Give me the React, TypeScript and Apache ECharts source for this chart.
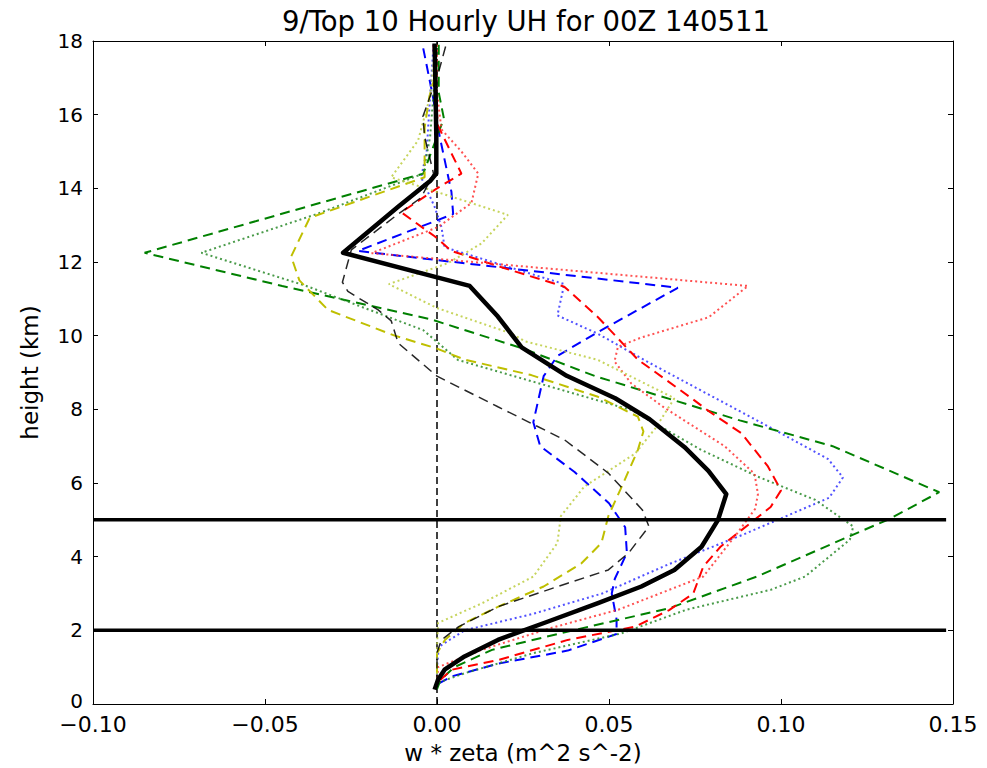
import React, { useEffect, useRef } from "react";
import * as echarts from "echarts";

// Each profile: [w*zeta (m^2 s^-2), height (km)]
const meanProfile: number[][] = [
  [-0.0007, 17.93], [-0.0004, 16.5], [-0.0002, 15.4], [-0.0002, 14.4], [-0.002, 14.2],
  [-0.0113, 13.5], [-0.0273, 12.25], [0.0095, 11.35], [0.0177, 10.52], [0.0246, 9.68],
  [0.0377, 8.91], [0.0518, 8.3], [0.0618, 7.73], [0.0719, 6.98], [0.0789, 6.33],
  [0.0841, 5.7], [0.0817, 5.0], [0.0769, 4.27], [0.069, 3.64], [0.0594, 3.19],
  [0.0468, 2.74], [0.0323, 2.24], [0.0177, 1.74], [0.008, 1.29], [0.0022, 0.93],
  [0.0003, 0.66], [-0.0007, 0.39],
];

const blueDashed: number[][] = [
  [-0.004, 17.8], [-0.0012, 16.5], [0.0008, 15.4], [0.0042, 13.9], [0.0047, 13.3],
  [-0.023, 12.3], [0.07, 11.3], [0.0468, 10.1], [0.035, 9.45], [0.031, 8.9],
  [0.028, 7.65], [0.03, 7.0], [0.04, 6.3], [0.05, 5.45], [0.0547, 4.8], [0.0552, 4.1],
  [0.0517, 3.4], [0.0508, 3.0], [0.0522, 2.3], [0.0522, 1.9], [0.038, 1.45],
  [0.018, 1.1], [0.0043, 0.75], [0.0003, 0.55],
];

const blueDotted: number[][] = [
  [-0.001, 17.9], [-0.002, 16.5], [-0.003, 15.0], [-0.0046, 14.3], [-0.0007, 13.5],
  [0.0013, 12.95], [0.0022, 12.4], [0.037, 11.4], [0.035, 10.55], [0.0468, 10.05],
  [0.061, 9.3], [0.079, 8.4], [0.098, 7.45], [0.1137, 6.65], [0.118, 6.15],
  [0.114, 5.6], [0.099, 5.0], [0.089, 4.6], [0.0675, 3.8], [0.048, 3.0],
  [0.028, 2.45], [0.008, 2.0], [0.0005, 1.55], [0.0, 1.0], [0.0, 0.5],
];

const greenDashed: number[][] = [
  [0.0005, 17.9], [0.0005, 16.6], [0.002, 15.9], [-0.004, 14.4], [-0.085, 12.25],
  [-0.045, 11.35], [-0.002, 10.45], [0.025, 9.65], [0.046, 8.9], [0.088, 7.7],
  [0.115, 7.0], [0.146, 5.75], [0.131, 5.0], [0.121, 4.6], [0.093, 3.46],
  [0.0675, 2.6], [0.04, 2.01], [0.016, 1.47], [0.005, 1.0], [0.001, 0.65], [0.0, 0.4],
];

const greenDotted: number[][] = [
  [0.0, 17.9], [-0.001, 16.6], [-0.002, 15.4], [-0.004, 14.4], [-0.035, 13.3],
  [-0.0685, 12.25], [-0.038, 11.35], [-0.004, 10.15], [0.0061, 9.34], [0.0565, 7.98],
  [0.0768, 6.9], [0.0933, 6.17], [0.11, 5.54], [0.121, 4.82], [0.12, 4.46],
  [0.107, 3.46], [0.097, 3.1], [0.0725, 2.56], [0.0537, 1.92], [0.028, 1.38],
  [0.0082, 0.84], [0.0, 0.57],
];

const redDashed: number[][] = [
  [-0.001, 17.9], [-0.0005, 16.6], [0.0003, 15.7], [0.0042, 14.95], [0.0071, 14.4],
  [0.0, 14.0], [-0.0104, 13.35], [-0.0007, 12.7], [0.0042, 12.3], [0.019, 11.85],
  [0.037, 11.33], [0.0468, 10.5], [0.0584, 9.35], [0.074, 8.3], [0.079, 7.95],
  [0.0885, 7.35], [0.0962, 6.45], [0.1, 5.8], [0.097, 5.35], [0.0923, 5.0],
  [0.0824, 4.27], [0.0774, 3.73], [0.0745, 3.0], [0.0675, 2.55], [0.0576, 2.1],
  [0.038, 1.74], [0.018, 1.2], [0.0043, 0.93], [0.0003, 0.6],
];

const redDotted: number[][] = [
  [0.0, 17.9], [0.0, 16.6], [0.0013, 15.6], [0.0071, 15.0], [0.012, 14.4],
  [0.01, 13.6], [0.0003, 12.95], [-0.019, 12.24], [0.0904, 11.35], [0.079, 10.5],
  [0.0594, 9.95], [0.0526, 9.7], [0.0516, 9.3], [0.0565, 8.7], [0.066, 8.05],
  [0.0836, 7.0], [0.0923, 6.25], [0.0933, 5.7], [0.0925, 5.3], [0.0873, 4.64],
  [0.0774, 3.46], [0.0675, 3.1], [0.0527, 2.56], [0.033, 2.06], [0.013, 1.47],
  [0.0003, 1.0], [0.0, 0.5],
];

const yellowDashed: number[][] = [
  [-0.0005, 17.9], [-0.0007, 17.0], [-0.0022, 16.5], [-0.0036, 15.65], [-0.0036, 14.3],
  [-0.037, 13.2], [-0.0424, 12.15], [-0.04, 11.5], [-0.0317, 10.7], [-0.0123, 10.0],
  [0.0, 9.65], [0.008, 9.35], [0.0274, 8.93], [0.0468, 8.34], [0.0584, 7.8],
  [0.06, 7.4], [0.0584, 6.9], [0.0537, 5.9], [0.0498, 5.1], [0.0478, 4.37],
  [0.042, 3.82], [0.031, 3.19], [0.018, 2.65], [0.008, 2.2], [0.0023, 1.74],
  [0.0, 1.38], [0.0, 0.5],
];

const yellowDotted: number[][] = [
  [-0.0005, 17.9], [-0.002, 16.5], [-0.0055, 15.3], [-0.0133, 14.3], [0.01, 13.6],
  [0.0206, 13.28], [0.0129, 12.5], [0.0032, 11.97], [-0.014, 11.4], [0.0, 10.75],
  [0.0216, 10.06], [0.0255, 9.85], [0.0468, 9.34], [0.069, 8.3], [0.0636, 7.5],
  [0.0576, 6.8], [0.0428, 5.9], [0.036, 5.1], [0.035, 4.37], [0.028, 3.46],
  [0.0132, 2.74], [0.0003, 2.2], [0.0, 1.5], [0.0, 0.5],
];

const blackDashed: number[][] = [
  [0.0025, 17.85], [0.0003, 17.1], [-0.0041, 15.95], [-0.0036, 15.4], [-0.001, 14.4],
  [-0.0046, 13.75], [-0.0123, 13.23], [-0.0249, 12.33], [-0.0275, 11.45], [-0.0259, 11.2],
  [-0.0171, 10.7], [-0.0133, 10.4], [-0.0113, 9.8], [0.0, 8.9], [0.0177, 8.07],
  [0.0371, 7.17], [0.0498, 6.27], [0.0597, 5.27], [0.0616, 4.82], [0.0557, 4.1],
  [0.0498, 3.64], [0.038, 3.28], [0.018, 2.65], [0.0063, 2.1], [0.0013, 1.74],
  [0.0, 1.4], [0.0, 0.5],
];

const referenceHeights = [5, 2];
const referenceSpan = [-0.1, 0.148];
const zeroLine: number[][] = [[0, 0], [0, 18]];

const titleText = "9/Top 10 Hourly UH for 00Z 140511";
const xLabel = "w * zeta (m^2 s^-2)";
const yLabel = "height (km)";

const FONT = "DejaVu Sans";
const DASH = [10, 6];
const DOT = [2, 3];

function profileSeries(name: string, data: number[][], color: string, type: number[], width: number, opacity = 1) {
  return {
    name,
    type: "line",
    data,
    symbol: "none",
    silent: true,
    xAxisIndex: 0,
    yAxisIndex: 0,
    lineStyle: { color, width, type, opacity },
    z: 3,
  };
}

export default function App() {
  const ref = useRef<HTMLDivElement>(null);
  useEffect(() => {
    if (!ref.current) return;
    const chart = echarts.init(ref.current, undefined, { renderer: "svg" });
    const grid = { left: 93, right: 34, top: 41, bottom: 64, containLabel: false, outerBoundsMode: "none" };
    const fmtX = (v: number) => v.toFixed(2).replace("-", "\u2212");
    const fmtY = (v: number) => (v === 0 ? "{z|0}" : String(v));
    const commonX = { type: "value", min: -0.1, max: 0.15, interval: 0.05, splitLine: { show: false } };
    const commonY = { type: "value", min: 0, max: 18, interval: 2, splitLine: { show: false } };
    const lineAx = { show: true, lineStyle: { color: "#000", width: 1 } };
    const tickAx = { show: true, inside: true, length: 5, lineStyle: { color: "#000", width: 1 } };
    chart.setOption({
      animation: false,
      backgroundColor: "#fff",
      grid,
      graphic: [
        {
          type: "text",
          x: 526,
          y: 21,
          style: {
            text: titleText,
            font: `27.5px "${FONT}"`,
            fill: "#000",
            align: "center",
            verticalAlign: "middle",
          },
        },
      ],
      xAxis: [
        {
          ...commonX,
          position: "bottom",
          axisLine: { ...lineAx, onZero: false },
          axisTick: tickAx,
          axisLabel: { formatter: fmtX, fontSize: 22, fontFamily: FONT, color: "#000", margin: 9 },
          name: xLabel,
          nameLocation: "middle",
          nameGap: 37,
          nameTextStyle: { fontSize: 23, fontFamily: FONT, color: "#000" },
        },
        {
          ...commonX,
          position: "top",
          axisLine: { ...lineAx, onZero: false },
          axisTick: tickAx,
          axisLabel: { show: false },
        },
      ],
      yAxis: [
        {
          ...commonY,
          position: "left",
          axisLine: { ...lineAx, onZero: false },
          axisTick: tickAx,
          axisLabel: {
            formatter: fmtY,
            fontSize: 20,
            fontFamily: FONT,
            color: "#000",
            margin: 10,
            rich: { z: { fontSize: 20, fontFamily: FONT, color: "#000", padding: [0, 0, 7, 0] } },
          },
          name: yLabel,
          nameLocation: "middle",
          nameGap: 52,
          nameTextStyle: { fontSize: 23, fontFamily: FONT, color: "#000" },
        },
        {
          ...commonY,
          position: "right",
          axisLine: { ...lineAx, onZero: false },
          axisTick: tickAx,
          axisLabel: { show: false },
        },
      ],
      series: [
        profileSeries("zero", zeroLine, "#000", [7, 4], 1.5),
        profileSeries("blue dashed", blueDashed, "#0000ff", DASH, 2),
        profileSeries("blue dotted", blueDotted, "#3333ff", DOT, 2, 0.85),
        profileSeries("green dashed", greenDashed, "#008000", DASH, 2),
        profileSeries("green dotted", greenDotted, "#2a8a2a", DOT, 2, 0.85),
        profileSeries("red dashed", redDashed, "#ff0000", DASH, 2),
        profileSeries("red dotted", redDotted, "#ff3333", DOT, 2, 0.85),
        profileSeries("yellow dashed", yellowDashed, "#bfbf00", DASH, 2),
        profileSeries("yellow dotted", yellowDotted, "#bccc40", DOT, 2, 0.85),
        profileSeries("black dashed", blackDashed, "#000", DASH, 1.5, 0.85),
        { ...profileSeries("mean", meanProfile, "#000", [], 4.5), lineStyle: { color: "#000", width: 4.5, type: "solid", join: "round" }, z: 4 },
        ...referenceHeights.map((h) => ({
          ...profileSeries(`ref ${h}`, referenceSpan.map((x) => [x, h]), "#000", [], 3.5),
          lineStyle: { color: "#000", width: 3.5, type: "solid" },
          clip: false,
          z: 5,
        })),
      ],
    });
    return () => chart.dispose();
  }, []);
  return (
    <div
      ref={ref}
      style={{ position: "fixed", left: 0, top: 0, width: 987, height: 768, background: "#fff" }}
    />
  );
}
